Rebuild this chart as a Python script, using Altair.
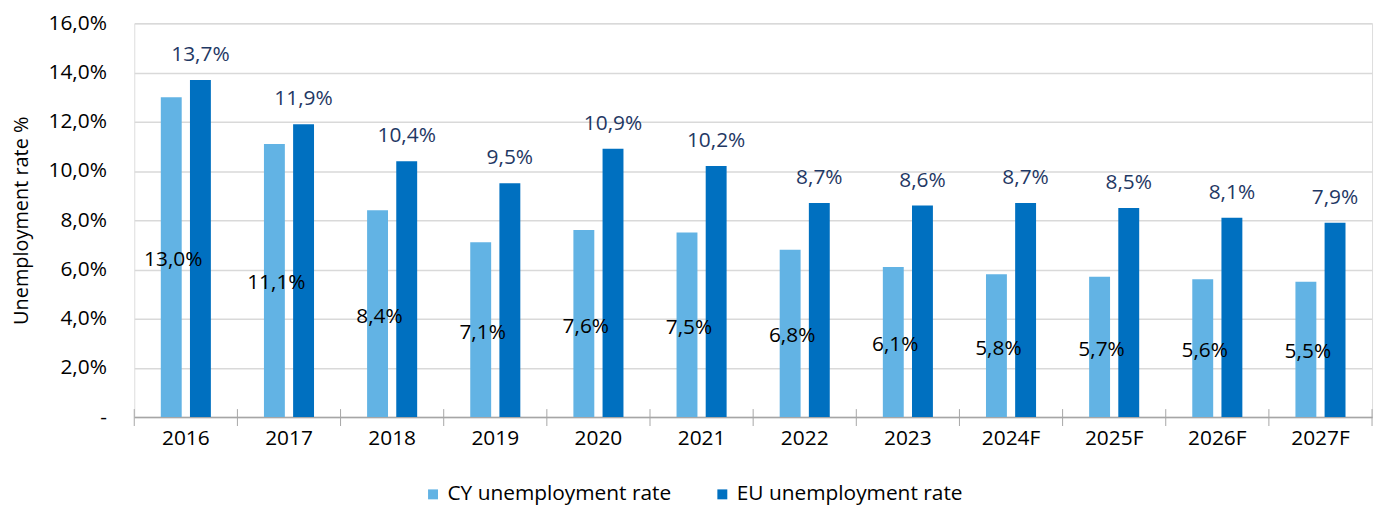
import altair as alt
import pandas as pd

years = ["2016", "2017", "2018", "2019", "2020", "2021", "2022", "2023",
         "2024F", "2025F", "2026F", "2027F"]
cy = [13.0, 11.1, 8.4, 7.1, 7.6, 7.5, 6.8, 6.1, 5.8, 5.7, 5.6, 5.5]
eu = [13.7, 11.9, 10.4, 9.5, 10.9, 10.2, 8.7, 8.6, 8.7, 8.5, 8.1, 7.9]
series = ["CY unemployment rate", "EU unemployment rate"]
colors = ["#62B3E4", "#0070C0"]
y_ticks = [0, 2, 4, 6, 8, 10, 12, 14, 16]

rows = []
for i, yr in enumerate(years):
    rows.append({"year": yr, "series": series[0], "value": cy[i]})
    rows.append({"year": yr, "series": series[1], "value": eu[i]})
df = pd.DataFrame(rows)
bounds = pd.DataFrame({"year": years})

FONT = "Open Sans"
FS = 21
LABEL_EXPR = "replace(format(datum.value, '.1f'), '.', ',') + '%'"

x_axis = alt.Axis(title=None, ticks=False, domain=True, domainColor="#A6A6A6",
                  domainWidth=1.5, labelFontSize=FS, labelColor="#000000",
                  labelFont=FONT, labelPadding=11, labelAngle=0, grid=False)
x_scale = alt.Scale(paddingInner=0, paddingOuter=0)
x = alt.X("year:N", sort=years, scale=x_scale, axis=x_axis)
xoff = alt.XOffset("series:N", sort=series,
                   scale=alt.Scale(paddingInner=0.283, paddingOuter=0.91))

y_axis = alt.Axis(values=y_ticks,
                  labelExpr="datum.value == 0 ? '-' : replace(format(datum.value, '.1f'), '.', ',') + '%'",
                  title="Unemployment rate %", titleFont=FONT, titleFontSize=20,
                  titleFontWeight="normal", titleColor="#000000", titlePadding=17,
                  domain=False, ticks=False, labelFontSize=FS, labelFont=FONT,
                  labelColor="#000000", labelPadding=28,
                  gridColor="#D9D9D9", gridWidth=1.5)
y_scale = alt.Scale(domain=[0, 16], nice=False)

color = alt.Color("series:N", sort=series,
                  scale=alt.Scale(domain=series, range=colors),
                  legend=alt.Legend(title=None, orient="none", direction="horizontal",
                                    legendX=290, legendY=463, symbolType="square",
                                    symbolSize=100, symbolStrokeWidth=0,
                                    labelFontSize=FS, labelFont=FONT, labelLimit=0,
                                    labelColor="#000000", columnPadding=40))

bars = alt.Chart(df).mark_bar().encode(
    x=x, xOffset=xoff,
    y=alt.Y("value:Q", scale=y_scale, axis=y_axis),
    color=color,
)

cy_text = alt.Chart(df).transform_filter(
    alt.datum.series == series[0]
).transform_calculate(
    label=LABEL_EXPR, mid="datum.value / 2"
).mark_text(font=FONT, fontSize=FS, color="#000000", baseline="middle", dx=2, dy=3).encode(
    x=x, xOffset=xoff,
    y=alt.Y("mid:Q", scale=y_scale, axis=y_axis),
    text="label:N",
)

eu_text = alt.Chart(df).transform_filter(
    alt.datum.series == series[1]
).transform_calculate(
    label=LABEL_EXPR
).mark_text(font=FONT, fontSize=FS, color="#1F3864", baseline="middle", dy=-25).encode(
    x=x, xOffset=xoff,
    y=alt.Y("value:Q", scale=y_scale, axis=y_axis),
    text="label:N",
)

ticks_left = alt.Chart(bounds).mark_rule(color="#A6A6A6", strokeWidth=1).encode(
    x=alt.X("year:N", sort=years, scale=x_scale, bandPosition=0, axis=x_axis),
    y=alt.value(388), y2=alt.value(405),
)
ticks_right = alt.Chart(bounds).transform_filter(
    alt.datum.year == years[-1]
).mark_rule(color="#A6A6A6", strokeWidth=1).encode(
    x=alt.X("year:N", sort=years, scale=x_scale, bandPosition=1, axis=x_axis),
    y=alt.value(388), y2=alt.value(405),
)

chart = alt.layer(bars, cy_text, eu_text, ticks_left, ticks_right).properties(
    width=1245, height=396,
    autosize=alt.AutoSizeParams(type="none"),
    padding={"left": 127, "top": 14, "right": 7, "bottom": 88},
).configure_view(stroke=None).configure(font=FONT)

chart.save("out.html", embed_options={"renderer": "svg", "actions": False})
